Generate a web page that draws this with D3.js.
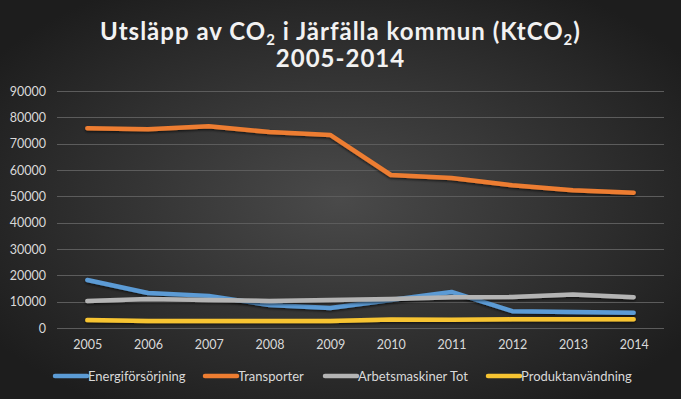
<!DOCTYPE html>
<html>
<head>
<meta charset="utf-8">
<script src="https://cdn.jsdelivr.net/npm/d3@7"></script>
<style>
  body { margin: 0; background: #222; }
  svg { display: block; }
</style>
</head>
<body>
<div id="chart"></div>
<script>
// years on the category axis
var years = ["2005","2006","2007","2008","2009","2010","2011","2012","2013","2014"];
var yTicks = [0,10000,20000,30000,40000,50000,60000,70000,80000,90000];

// series values (KtCO2)
var energi      = [18200,13300,12200,8700,7600,10600,13700,6400,6100,5800];
var transporter = [75900,75500,76600,74400,73300,58100,57000,54200,52300,51400];
var arbets      = [10300,11000,10600,10300,10600,11000,11700,11800,12700,11700];
var produkt     = [3000,2700,2700,2700,2700,3200,3100,3300,3300,3300];

var seriesNames = ["Energiförsörjning","Transporter","Arbetsmaskiner Tot","Produktanvändning"];
var seriesColors = ["#5b9bd5","#ed7d31","#b4b4b4","#f7c431"];
var seriesData = [energi, transporter, arbets, produkt];

var W = 681, H = 399;
var margin = {top:91, bottom:71, left:57, right:17};

var svg = d3.select('#chart').append('svg')
    .attr('width', W).attr('height', H);

var defs = svg.append('defs');
var grad = defs.append('radialGradient').attr('id','bg')
    .attr('cx','50%').attr('cy','50%').attr('r','62%');
grad.append('stop').attr('offset','0%').attr('stop-color','#4a4a4a');
grad.append('stop').attr('offset','100%').attr('stop-color','#1d1d1d');

svg.append('rect').attr('width',W).attr('height',H).attr('fill','url(#bg)');

// title
var title = svg.append('text')
    .attr('x', W/2).attr('y', 40)
    .attr('text-anchor','middle')
    .attr('fill','#f2f2f2')
    .style('font-family','Lato, sans-serif')
    .style('font-weight','bold')
    .style('font-size','24px')
    .style('letter-spacing','1px');
title.append('tspan').text('Utsläpp av CO');
title.append('tspan').text('2').attr('font-size','15px').attr('dy',5);
title.append('tspan').text(' i Järfälla kommun (KtCO').attr('dy',-5);
title.append('tspan').text('2').attr('font-size','15px').attr('dy',5);
title.append('tspan').text(')').attr('dy',-5);

svg.append('text')
    .attr('x', W/2).attr('y', 67)
    .attr('text-anchor','middle')
    .attr('fill','#f2f2f2')
    .style('font-family','Lato, sans-serif')
    .style('font-weight','bold')
    .style('font-size','24px')
    .style('letter-spacing','1px')
    .text('2005-2014');

var x = d3.scalePoint()
    .domain(years)
    .range([margin.left, W - margin.right])
    .padding(0.5);

var y = d3.scaleLinear()
    .domain([0, 90000])
    .range([328, 91]);

// gridlines
svg.append('g').selectAll('line')
    .data(yTicks).enter()
  .append('line')
    .attr('x1', margin.left).attr('x2', W - margin.right)
    .attr('y1', function(d){ return Math.round(y(d)) + 0.5; })
    .attr('y2', function(d){ return Math.round(y(d)) + 0.5; })
    .attr('stroke', '#5c5c5c').attr('stroke-width', 1);

// y axis labels
var yAxis = d3.axisLeft(y).tickValues(yTicks).tickSize(0).tickPadding(0)
    .tickFormat(d3.format('d'));
var gy = svg.append('g').attr('transform','translate(46,0)').call(yAxis);
gy.select('.domain').remove();
gy.selectAll('text')
    .attr('fill','#d9d9d9')
    .style('font-family','Lato, sans-serif')
    .style('font-size','12.5px');

// x axis labels
var xAxis = d3.axisBottom(x).tickSize(0).tickPadding(0);
var gx = svg.append('g').attr('transform','translate(0,340)').call(xAxis);
gx.select('.domain').remove();
gx.selectAll('text')
    .attr('fill','#d9d9d9')
    .style('font-family','Lato, sans-serif')
    .style('font-size','12.5px');

// lines
var line = d3.line()
    .x(function(d,i){ return x(years[i]); })
    .y(function(d){ return y(d); });

var shadow = defs.append('filter').attr('id','sh')
    .attr('filterUnits','userSpaceOnUse')
    .attr('x',0).attr('y',0).attr('width',W).attr('height',H);
shadow.append('feDropShadow').attr('dx',0).attr('dy',1.5).attr('stdDeviation',1.2)
    .attr('flood-color','#000').attr('flood-opacity',0.6);

svg.append('g').selectAll('path')
    .data(seriesData).enter()
  .append('path')
    .attr('d', line)
    .attr('fill','none')
    .attr('stroke', function(d,i){ return seriesColors[i]; })
    .attr('stroke-width', 4.5)
    .attr('stroke-linecap','round')
    .attr('stroke-linejoin','round')
    .attr('filter','url(#sh)');

// legend
var legendX = [55, 205, 325, 488];
var leg = svg.append('g').selectAll('g')
    .data(seriesNames).enter()
  .append('g')
    .attr('transform', function(d,i){ return 'translate(' + legendX[i] + ',376)'; });
leg.append('line')
    .attr('x1',0).attr('x2',32).attr('y1',0).attr('y2',0)
    .attr('stroke', function(d,i){ return seriesColors[i]; })
    .attr('stroke-width',4.5)
    .attr('stroke-linecap','round');
leg.append('text')
    .attr('x',33).attr('y',5)
    .attr('fill','#d9d9d9')
    .style('font-family','Lato, sans-serif')
    .style('font-size','13px')
    .text(function(d){ return d; });
</script>
</body>
</html>
